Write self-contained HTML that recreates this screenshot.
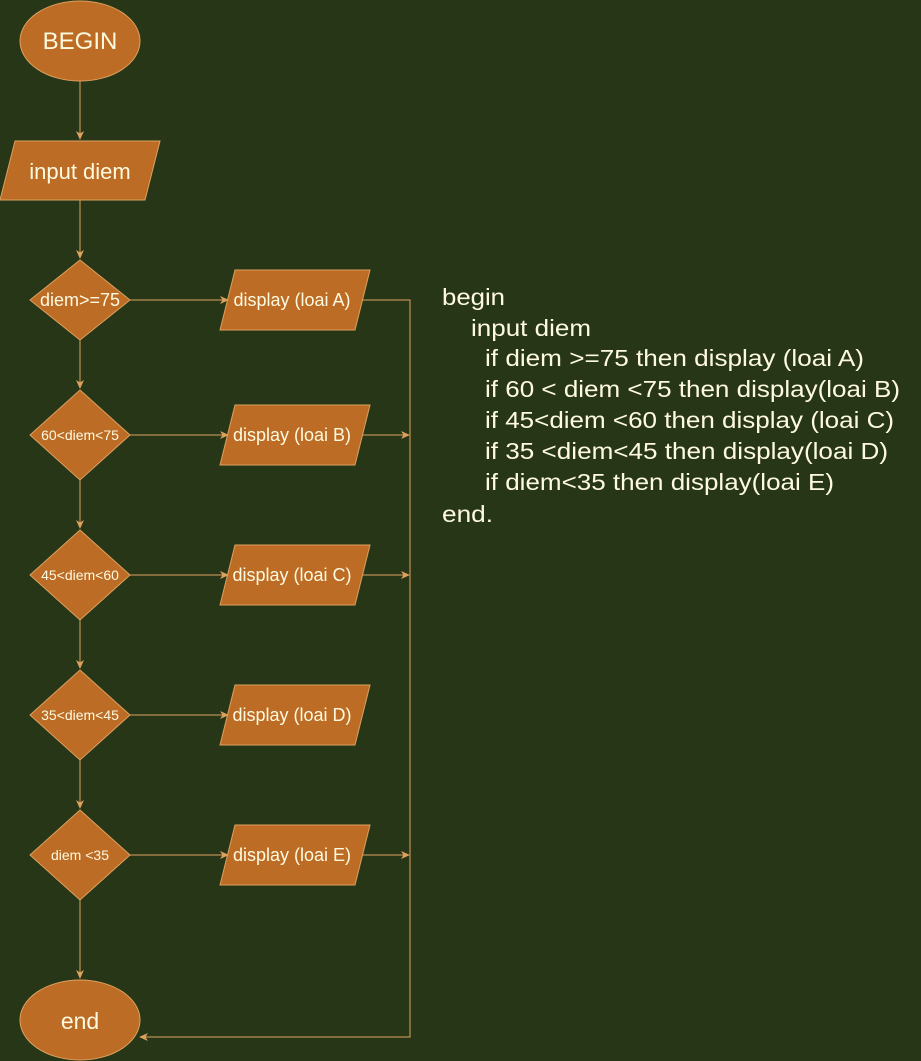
<!DOCTYPE html>
<html><head><style>
body{margin:0;background:#283618;}
svg{display:block;}
text{font-family:"Liberation Sans",Arial,sans-serif;fill:#fefae0;}
</style></head><body>
<svg width="921" height="1061" viewBox="0 0 921 1061">
<defs><marker id="a" markerWidth="10" markerHeight="10" refX="8" refY="4" orient="auto" markerUnits="userSpaceOnUse"><path d="M0,0 L9,4 L0,8 L2.5,4 Z" fill="#dda15e"/></marker></defs>
<g fill="#bc6c25" stroke="#dda15e" stroke-width="1">
<ellipse cx="80" cy="41" rx="60" ry="40"/>
<polygon points="15,141 160,141 145,200 0,200"/>
<polygon points="80,260 130,300 80,340 30,300"/>
<polygon points="80,390 130,435 80,480 30,435"/>
<polygon points="80,530 130,575 80,620 30,575"/>
<polygon points="80,670 130,715 80,760 30,715"/>
<polygon points="80,810 130,855 80,900 30,855"/>
<polygon points="235,270 370,270 355,330 220,330"/>
<polygon points="235,405 370,405 355,465 220,465"/>
<polygon points="235,545 370,545 355,605 220,605"/>
<polygon points="235,685 370,685 355,745 220,745"/>
<polygon points="235,825 370,825 355,885 220,885"/>
<ellipse cx="80" cy="1020" rx="60" ry="40"/>
</g>
<g stroke="#dda15e" stroke-width="1" fill="none">
<line x1="80" y1="81" x2="80" y2="139" marker-end="url(#a)"/>
<line x1="80" y1="200" x2="80" y2="258" marker-end="url(#a)"/>
<line x1="80" y1="340" x2="80" y2="388" marker-end="url(#a)"/>
<line x1="80" y1="480" x2="80" y2="528" marker-end="url(#a)"/>
<line x1="80" y1="620" x2="80" y2="668" marker-end="url(#a)"/>
<line x1="80" y1="760" x2="80" y2="808" marker-end="url(#a)"/>
<line x1="80" y1="900" x2="80" y2="978" marker-end="url(#a)"/>
<line x1="130" y1="300" x2="228" y2="300" marker-end="url(#a)"/>
<line x1="130" y1="435" x2="228" y2="435" marker-end="url(#a)"/>
<line x1="130" y1="575" x2="228" y2="575" marker-end="url(#a)"/>
<line x1="130" y1="715" x2="228" y2="715" marker-end="url(#a)"/>
<line x1="130" y1="855" x2="228" y2="855" marker-end="url(#a)"/>
<polyline points="362,300 410,300 410,1037 140,1037" marker-end="url(#a)"/>
<line x1="362" y1="435" x2="409" y2="435" marker-end="url(#a)"/>
<line x1="362" y1="575" x2="409" y2="575" marker-end="url(#a)"/>
<line x1="362" y1="855" x2="409" y2="855" marker-end="url(#a)"/>
</g>
<g text-anchor="middle">
<text x="80" y="49" font-size="24">BEGIN</text>
<text x="80" y="179" font-size="22">input diem</text>
<text x="80" y="306" font-size="18">diem&gt;=75</text>
<text x="80" y="440" font-size="14">60&lt;diem&lt;75</text>
<text x="80" y="580" font-size="14">45&lt;diem&lt;60</text>
<text x="80" y="720" font-size="14">35&lt;diem&lt;45</text>
<text x="80" y="860" font-size="14">diem &lt;35</text>
<text x="292" y="306" font-size="18">display (loai A)</text>
<text x="292" y="441" font-size="18">display (loai B)</text>
<text x="292" y="581" font-size="18">display (loai C)</text>
<text x="292" y="721" font-size="18">display (loai D)</text>
<text x="292" y="861" font-size="18">display (loai E)</text>
<text x="80" y="1029" font-size="23">end</text>
</g>
<g font-size="23">
<text x="442" y="305" textLength="63" lengthAdjust="spacingAndGlyphs">begin</text>
<text x="471" y="336" textLength="120" lengthAdjust="spacingAndGlyphs">input diem</text>
<text x="485" y="366" textLength="379" lengthAdjust="spacingAndGlyphs">if diem &gt;=75 then display (loai A)</text>
<text x="485" y="397" textLength="415" lengthAdjust="spacingAndGlyphs">if 60 &lt; diem &lt;75 then display(loai B)</text>
<text x="485" y="428" textLength="409" lengthAdjust="spacingAndGlyphs">if 45&lt;diem &lt;60 then display (loai C)</text>
<text x="485" y="459" textLength="403" lengthAdjust="spacingAndGlyphs">if 35 &lt;diem&lt;45 then display(loai D)</text>
<text x="485" y="490" textLength="349" lengthAdjust="spacingAndGlyphs">if diem&lt;35 then display(loai E)</text>
<text x="442" y="522" textLength="51" lengthAdjust="spacingAndGlyphs">end.</text>
</g>
</svg>
</body></html>
